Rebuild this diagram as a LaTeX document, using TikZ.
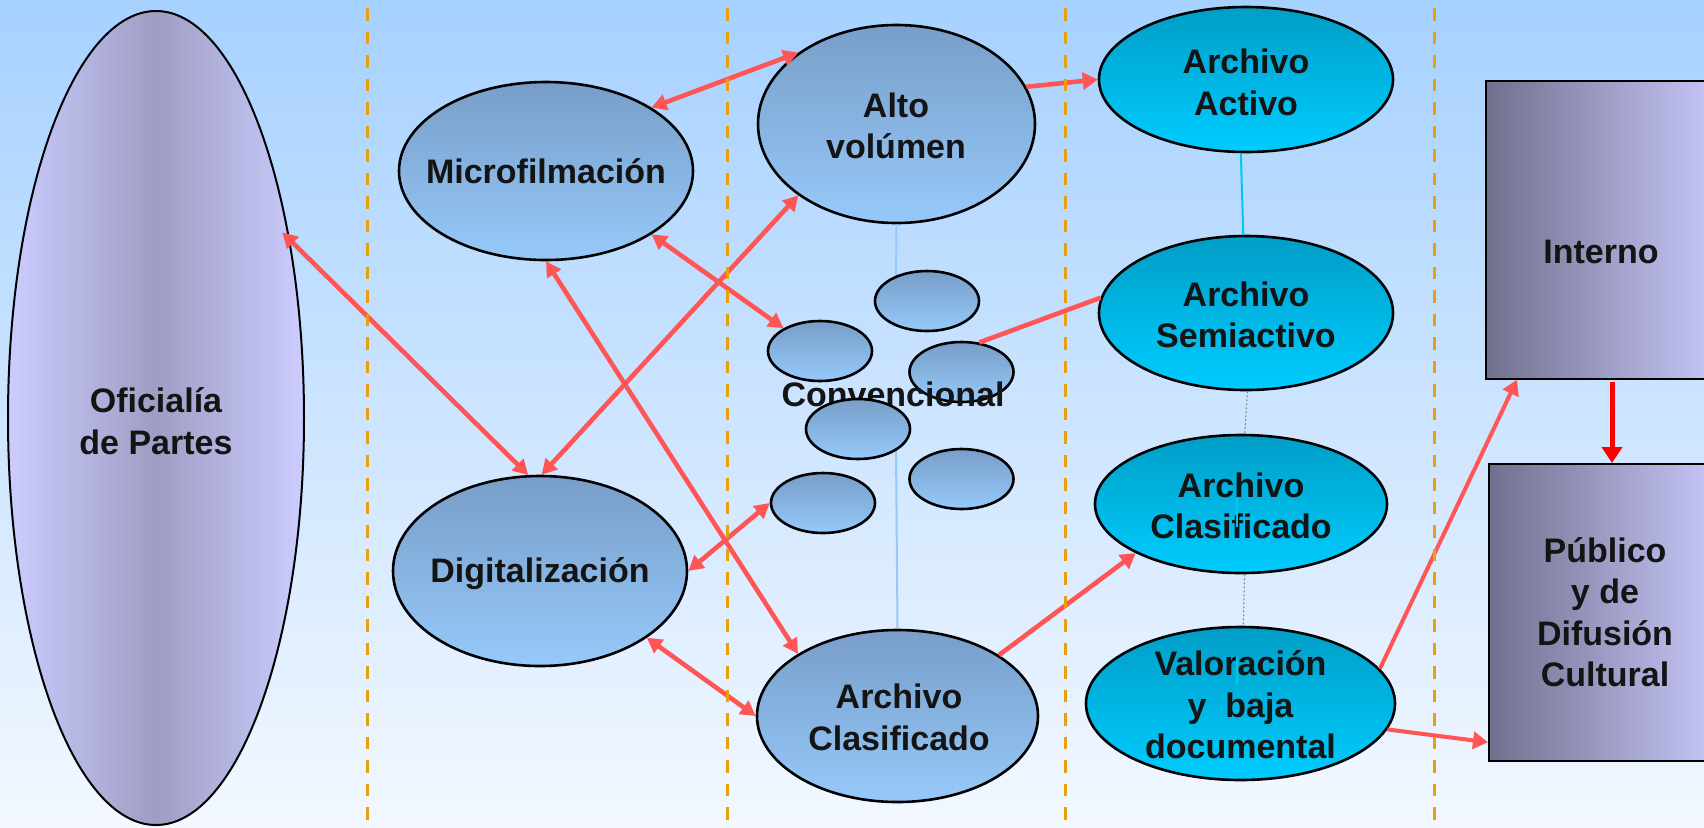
\documentclass[tikz,border=0pt]{standalone}
\usepackage{fontspec}
\setmainfont{Liberation Sans}
\usetikzlibrary{shapes.geometric,arrows.meta}

\definecolor{bgtop}{RGB}{166,209,255}
\definecolor{bgbot}{RGB}{243,248,255}
\definecolor{bluetop}{RGB}{120,158,200}
\definecolor{bluebot}{RGB}{150,201,250}
\definecolor{cyantop}{RGB}{0,158,198}
\definecolor{cyanbot}{RGB}{0,204,255}
\definecolor{lavlight}{RGB}{204,204,255}
\definecolor{lavdark}{RGB}{158,158,196}
\definecolor{boxdark}{RGB}{112,112,142}
\definecolor{arrred}{RGB}{255,85,85}
\definecolor{dashor}{RGB}{232,160,16}
\definecolor{thinblue}{RGB}{150,200,250}
\definecolor{cyanline}{RGB}{0,200,240}
\definecolor{txt}{RGB}{20,20,20}

\begin{document}
\begin{tikzpicture}[x=0.5pt,y=-0.5pt,
  ell/.style={ellipse, draw=black, line width=1.3pt, inner sep=0pt},
  blueell/.style={ell, top color=bluetop, bottom color=bluebot},
  cyanell/.style={ell, top color=cyantop, bottom color=cyanbot},
  smallell/.style={blueell, minimum width=52pt, minimum height=30pt},
  lbl/.style={font=\fontsize{17}{20.75}\selectfont\bfseries, text=txt, align=center, inner sep=0pt},
  redarr/.style={draw=arrred, line width=2.3pt},
  twohead/.style={{Triangle[length=7.5pt,width=8pt]}-{Triangle[length=7.5pt,width=8pt]}},
  onehead/.style={-{Triangle[length=7.5pt,width=8.5pt]}},
  divider/.style={draw=dashor, line width=1.5pt, dash pattern=on 6.25pt off 5.5pt},
  boxnode/.style={draw=black, line width=1pt, left color=boxdark, right color=lavlight, inner sep=0pt},
  thinlink/.style={draw=thinblue, line width=1pt},
  graylink/.style={draw=gray, line width=0.5pt, dash pattern=on 1pt off 1pt}
]
\useasboundingbox (0,0) rectangle (1704,827);
\clip (0,0) rectangle (1704,827);
\shade[top color=bgtop, bottom color=bgbot] (0,0) rectangle (1704,827);

% ---------- nodes ----------
\node[ell, line width=1pt, minimum width=148pt, minimum height=407pt,
      left color=lavlight, right color=lavlight, middle color=lavdark] (ofi) at (156,418) {};
\node[blueell, minimum width=147pt, minimum height=89pt] (micro) at (546,171) {};
\node[blueell, minimum width=138.5pt, minimum height=99pt] (alto) at (896.5,124) {};
\node[blueell, minimum width=147pt, minimum height=95pt] (digi) at (540,571) {};
\node[blueell, minimum width=140.5pt, minimum height=86pt] (clasA) at (897.5,716) {};
\node[cyanell, minimum width=147pt, minimum height=72.5pt] (activo) at (1246,79.5) {};
\node[cyanell, minimum width=147pt, minimum height=77pt] (semi) at (1246,313) {};
\node[cyanell, minimum width=146pt, minimum height=69pt] (clasB) at (1241,504) {};
\node[cyanell, minimum width=154.5pt, minimum height=76.5pt] (valor) at (1240.5,703.5) {};
\node[boxnode, minimum width=122pt, minimum height=149pt] (interno) at (1608,229.7) {};
\node[boxnode, minimum width=120.5pt, minimum height=148.25pt] (publico) at (1609.5,612.25) {};

% thin links
\draw[thinlink] (alto.south) -- (896,277);
\draw[thinlink] (896,448) -- (clasA.north);
\draw[draw=cyanline, line width=1pt] (activo.266) -- (semi.92);
\draw[graylink] (semi.271) -- (clasB.87);
\draw[graylink] (clasB.273) -- (valor.88);

% small ellipses + Convencional
\node[smallell] (e1) at (927,301) {};
\node[smallell] (e2) at (820,351) {};
\node[smallell] (e3) at (961.5,372) {};
\node[lbl, anchor=base] (conv) at (893,406.7) {Convencional};
\node[smallell] (e4) at (858,429) {};
\node[smallell] (e5) at (961.5,479) {};
\node[smallell] (e6) at (823,503) {};

% ---------- red connectors ----------
\draw[redarr, twohead, shorten <=-5.5pt] (ofi.53) -- (digi.97);
\draw[redarr, twohead] (digi.89) -- (alto.216);
\draw[redarr, twohead] (micro.31) -- (alto.144);
\draw[redarr, twohead] (micro.329) -- (e2.148);
\draw[redarr, twohead] (micro.270) -- (clasA.148);
\draw[redarr, twohead] (digi.0) -- (e6.180);
\draw[redarr, twohead] (digi.328) -- (clasA.180);
\draw[redarr, onehead] (alto.16) -- (activo.180);
\draw[redarr] (e3.59) -- (semi.174);
\draw[redarr, onehead] (clasA.31) -- (clasB.205);
\draw[redarr, line width=2pt, onehead] (valor.14) -- ([xshift=16pt]interno.south west);
\draw[redarr, line width=2pt, onehead] (valor.350) -- ([yshift=-65pt]publico.west);
\draw[draw=red, line width=2.5pt, -{Triangle[length=8pt,width=10pt]}] ([xshift=63.5pt,yshift=-1pt]interno.south west) -- ([xshift=62pt]publico.north west);

% dividers
\draw[divider] (367,8) -- (367,827);
\draw[divider] (727.5,8) -- (727.5,827);
\draw[divider] (1065,8) -- (1065,827);
\draw[divider] (1434.5,8) -- (1434.5,827);

% ---------- labels ----------
\node[lbl] (ofi-t) at (156,421) {Oficialía\\de Partes};
\node[lbl, anchor=base] (micro-t) at (546,183.3) {Microfilmación};
\node[lbl] (alto-t) at (896,126) {Alto\\volúmen};
\node[lbl, anchor=base] (digi-t) at (540,582.7) {Digitalización};
\node[lbl] (clasA-t) at (899,717.5) {Archivo\\Clasificado};
\node[lbl] (activo-t) at (1246,82.5) {Archivo\\Activo};
\node[lbl] (semi-t) at (1246,315) {Archivo\\Semiactivo};
\node[lbl] (clasB-t) at (1241,506) {Archivo\\Clasificado};
\node[lbl] (valor-t) at (1240.5,705) {Valoración\\y~ baja\\documental};
\node[lbl, anchor=base] (interno-t) at (1601,263.7) {Interno};
\node[lbl] (publico-t) at (1605,612) {Público\\y de\\Difusión\\Cultural};

% tiny cyan marks over text
\draw[draw=cyanline, line width=0.75pt] ([xshift=-2pt,yshift=3.15pt]clasB.center) -- ([xshift=-2pt,yshift=-11.35pt]clasB.center);
\draw[draw=cyanline, line width=0.75pt] ([xshift=-1.75pt,yshift=23.4pt]valor.center) -- ([xshift=-1.75pt,yshift=9.25pt]valor.center);
\end{tikzpicture}
\end{document}
